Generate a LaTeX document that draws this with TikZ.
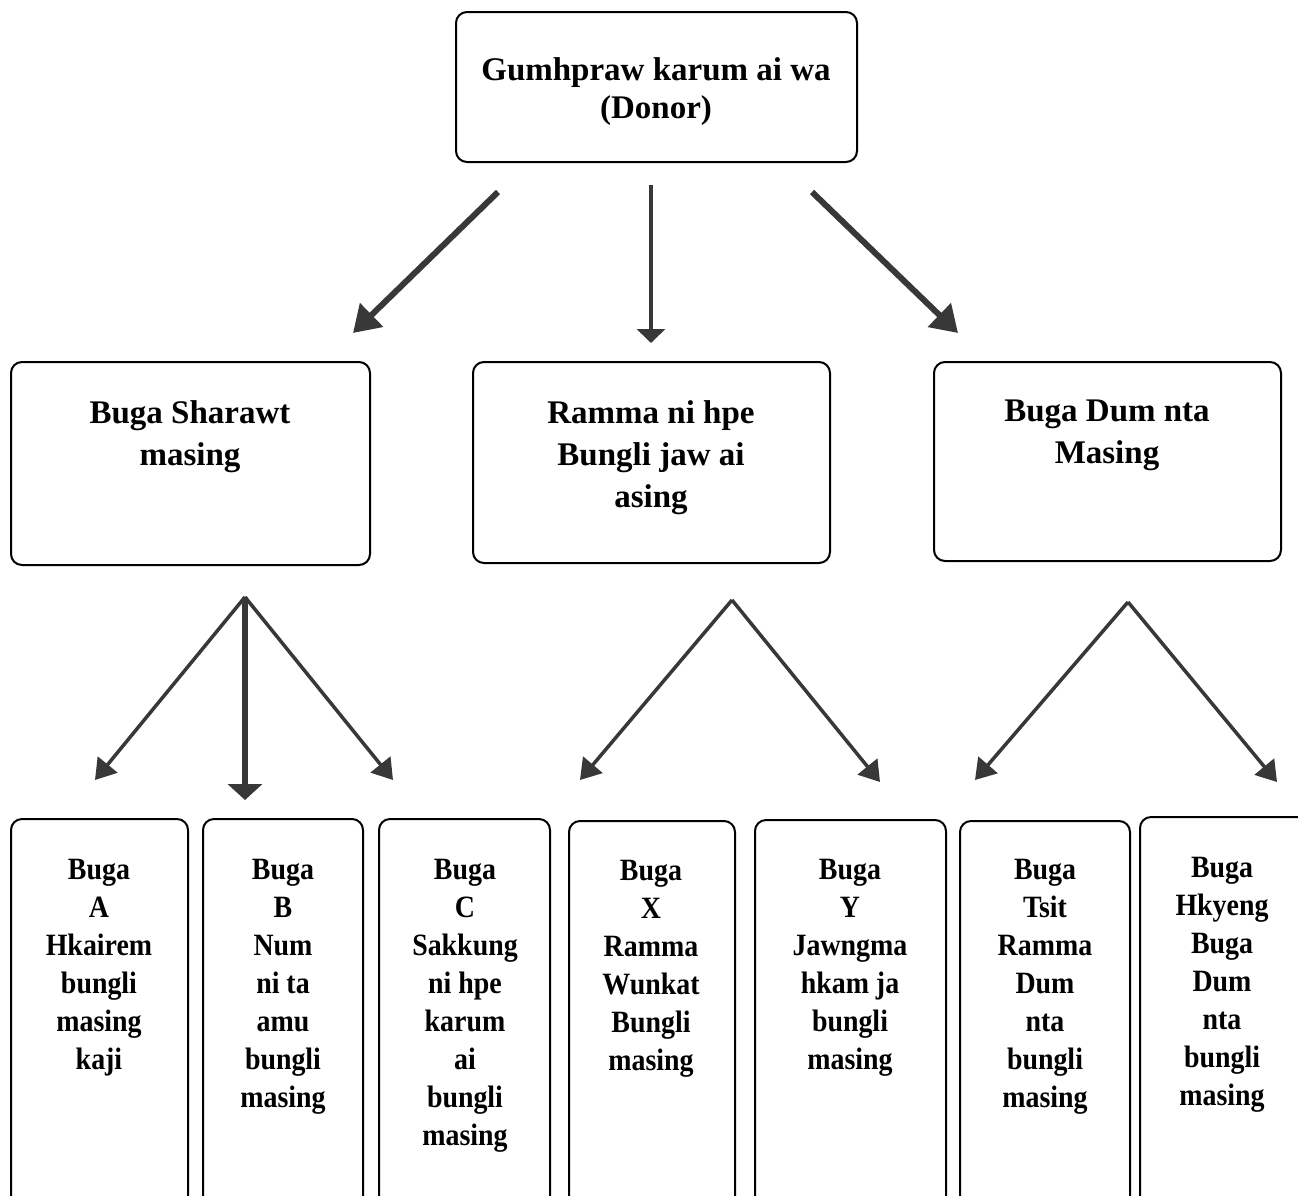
\documentclass[tikz,border=0pt]{standalone}
\usepackage{fontspec}
\setmainfont{Liberation Serif}
\newfontfamily\condfont{Liberation Serif}[FakeStretch=0.9]
\usetikzlibrary{arrows.meta}
\definecolor{arrowgray}{HTML}{383838}
\tikzset{
  box/.style={draw=black, line width=2pt, rounded corners=11pt},
  lbl/.style={anchor=north, align=center, inner sep=0pt, font=\fontsize{33}{42}\selectfont\bfseries},
  tlbl/.style={anchor=north, align=center, inner sep=0pt, font=\fontsize{33}{38}\selectfont\bfseries},
  slbl/.style={anchor=north, align=center, inner sep=0pt, font=\condfont\fontsize{31}{38}\selectfont\bfseries},
  bigarrow/.style={draw=arrowgray, line width=6pt, -{Triangle[length=26pt,width=32pt]}},
  bigvarrow/.style={draw=arrowgray, line width=4pt, -{Triangle[length=14pt,width=28pt]}},
  smallarrow/.style={draw=arrowgray, line width=3.5pt, -{Triangle[length=20pt,width=25pt]}},
  smallvarrow/.style={draw=arrowgray, line width=6pt, -{Triangle[length=16pt,width=34pt]}}
}
\begin{document}
\begin{tikzpicture}[x=1pt,y=-1pt]
\useasboundingbox (0,0) rectangle (1298,1195);
\clip (0,0) rectangle (1298,1195);
\fill[white] (0,0) rectangle (1298,1195);

% top box
\draw[box] (456,12) rectangle (857,162);
\node[tlbl] (ttop) at (656,57) {Gumhpraw karum ai wa\\(Donor)};

% middle boxes
\draw[box] (11,362) rectangle (370,565);
\node[lbl] (tm1) at (190,400) {Buga Sharawt\\masing};
\draw[box] (473,362) rectangle (830,563);
\node[lbl] (tm2) at (651,400) {Ramma ni hpe\\Bungli jaw ai\\asing};
\draw[box] (934,362) rectangle (1281,561);
\node[lbl] (tm3) at (1107,400) {Buga Dum nta\\Masing};

% bottom boxes
\draw[box] (11,819) rectangle (188,1220);
\node[slbl] (b1) at (99,859) {Buga\\A\\Hkairem\\bungli\\masing\\kaji};
\draw[box] (203,819) rectangle (363,1220);
\node[slbl] (b2) at (283,859) {Buga\\B\\Num\\ni ta\\amu\\bungli\\masing};
\draw[box] (379,819) rectangle (550,1220);
\node[slbl] (b3) at (465,859) {Buga\\C\\Sakkung\\ni hpe\\karum\\ai\\bungli\\masing};
\draw[box] (569,821) rectangle (735,1220);
\node[slbl] (b4) at (651,860) {Buga\\X\\Ramma\\Wunkat\\Bungli\\masing};
\draw[box] (755,820) rectangle (946,1220);
\node[slbl] (b5) at (850,859) {Buga\\Y\\Jawngma\\hkam ja\\bungli\\masing};
\draw[box] (960,821) rectangle (1130,1220);
\node[slbl] (b6) at (1045,859) {Buga\\Tsit\\Ramma\\Dum\\nta\\bungli\\masing};
\draw[box] (1140,817) rectangle (1315,1220);
\node[slbl] (b7) at (1222,857) {Buga\\Hkyeng\\Buga\\Dum\\nta\\bungli\\masing};

% arrow endpoints level 1
\coordinate (s1) at (498,192);
\coordinate (e1) at (353,333);
\coordinate (s2) at (651,185);
\coordinate (e2) at (651,343);
\coordinate (s3) at (812,192);
\coordinate (e3) at (958,333);
\draw[bigarrow] (s1) -- (e1);
\draw[bigvarrow] (s2) -- (e2);
\draw[bigarrow] (s3) -- (e3);

% level 2
\coordinate (a1) at (245,597);
\coordinate (a1l) at (95,780);
\coordinate (a1m) at (245,800);
\coordinate (a1r) at (393,780);
\draw[smallarrow] (a1) -- (a1l);
\draw[smallvarrow] (a1) -- (a1m);
\draw[smallarrow] (a1) -- (a1r);

\coordinate (a2) at (732,600);
\coordinate (a2l) at (580,780);
\coordinate (a2r) at (880,782);
\draw[smallarrow] (a2) -- (a2l);
\draw[smallarrow] (a2) -- (a2r);

\coordinate (a3) at (1128,602);
\coordinate (a3l) at (975,780);
\coordinate (a3r) at (1277,782);
\draw[smallarrow] (a3) -- (a3l);
\draw[smallarrow] (a3) -- (a3r);
\end{tikzpicture}
\end{document}
